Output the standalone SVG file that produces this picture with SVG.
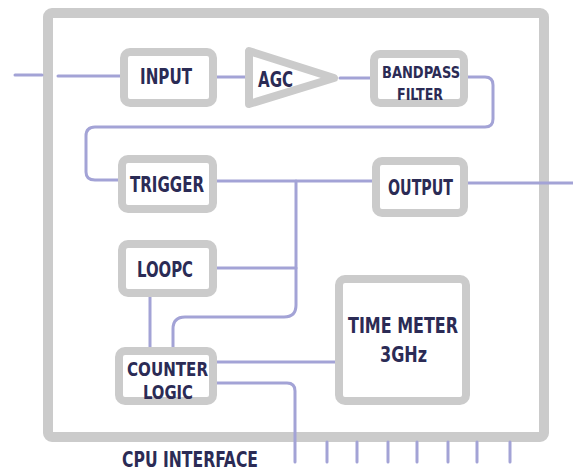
<svg xmlns="http://www.w3.org/2000/svg" width="573" height="472" viewBox="0 0 573 472">
<style>
.box{fill:#ffffff;stroke:#cbcbcb;stroke-width:8;stroke-linejoin:round}
.outer{fill:none;stroke:#cbcbcb;stroke-width:10;stroke-linejoin:round}
.wire{fill:none;stroke:#a3a3d6;stroke-width:3;stroke-linecap:round;stroke-linejoin:round}
.lbl{font-family:"DejaVu Sans Condensed","DejaVu Sans","Liberation Sans",sans-serif;font-weight:bold;font-size:21px;fill:#2b2b55;text-anchor:middle}
.sm{font-size:16px}
.md{font-size:19px}
</style>
<rect width="573" height="472" fill="#ffffff"/>
<g id="chip"><rect class="outer" x="48" y="13" width="496" height="424" rx="4"/></g>
<g id="connectors">
<path class="wire" d="M15,75 H42"/>
<path class="wire" d="M58,76 H120"/>
<path class="wire" d="M217,77 H245"/>
<path class="wire" d="M340,78 H370"/>
<path class="wire" d="M468,77 H485 Q493,77 493,85 V119 Q493,127 485,127 H95 Q86,127 86,136 V172 Q86,180 95,180 H118"/>
<path class="wire" d="M217,181 H372"/>
<path class="wire" d="M468,183 H573"/>
<path class="wire" d="M296,181 V305 Q296,317 284,317 H185 Q173,317 173,329 V347"/>
<path class="wire" d="M217,268 H296"/>
<path class="wire" d="M150,297 V347"/>
<path class="wire" d="M217,362 H335"/>
<path class="wire" d="M217,383 H287 Q295,383 295,391 V462"/>
<path class="wire" d="M327,442 V462 M357,442 V462 M388,442 V462 M417,442 V462 M448,442 V462 M477,442 V462 M510,442 V462"/>
</g>
<g id="input"><rect class="box" x="124" y="52" width="89" height="51" rx="6"/><text class="lbl" x="166" y="84" textLength="52" lengthAdjust="spacingAndGlyphs">INPUT</text></g>
<g id="agc"><polygon class="box" points="249,51 249,104 334,78"/><text class="lbl" x="275.5" y="87" textLength="35" lengthAdjust="spacingAndGlyphs">AGC</text></g>
<g id="bandpass"><rect class="box" x="374" y="54" width="90" height="49" rx="6"/><text class="lbl sm" x="421" y="78" textLength="78" lengthAdjust="spacingAndGlyphs">BANDPASS</text><text class="lbl sm" x="420" y="100" textLength="46" lengthAdjust="spacingAndGlyphs">FILTER</text></g>
<g id="trigger"><rect class="box" x="122" y="159" width="91" height="50" rx="6"/><text class="lbl" x="167" y="192" textLength="74" lengthAdjust="spacingAndGlyphs">TRIGGER</text></g>
<g id="output"><rect class="box" x="376" y="161" width="88" height="52" rx="6"/><text class="lbl" x="420.5" y="195" textLength="65" lengthAdjust="spacingAndGlyphs">OUTPUT</text></g>
<g id="loopc"><rect class="box" x="122" y="244" width="91" height="49" rx="6"/><text class="lbl" x="165" y="277" textLength="56" lengthAdjust="spacingAndGlyphs">LOOPC</text></g>
<g id="counter"><rect class="box" x="119" y="351" width="94" height="50" rx="6"/><text class="lbl md" x="167.5" y="376" textLength="81" lengthAdjust="spacingAndGlyphs">COUNTER</text><text class="lbl md" x="168" y="399" textLength="50" lengthAdjust="spacingAndGlyphs">LOGIC</text></g>
<g id="timemeter"><rect class="box" x="339" y="279" width="127" height="122" rx="6"/><text class="lbl" x="403" y="333" textLength="110" lengthAdjust="spacingAndGlyphs">TIME METER</text><text class="lbl" x="403.5" y="362" textLength="47" lengthAdjust="spacingAndGlyphs">3GHz</text></g>
<g id="cpu"><text class="lbl" x="190" y="467" textLength="136" lengthAdjust="spacingAndGlyphs">CPU INTERFACE</text></g>
</svg>
